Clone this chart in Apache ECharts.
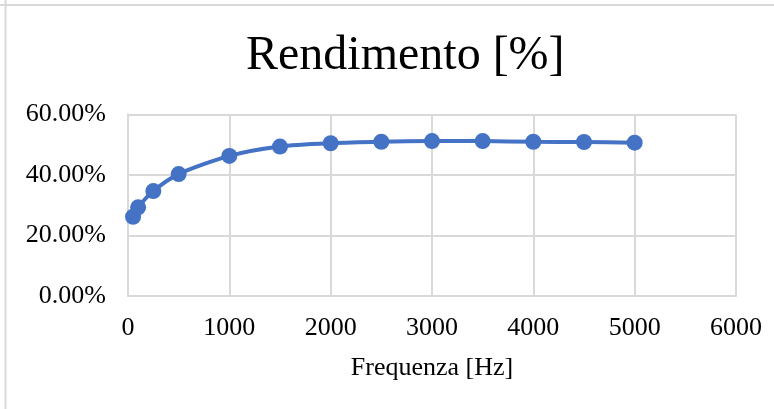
<!DOCTYPE html>
<html>
<head>
<meta charset="utf-8">
<script src="https://cdn.jsdelivr.net/npm/echarts@6/dist/echarts.min.js"></script>
<style>
html,body{margin:0;padding:0;background:#fff;}
#chart{width:774px;height:409px;}
</style>
</head>
<body>
<div id="chart"></div>
<script>
const titleText = 'Rendimento [%]';
const xAxisName = 'Frequenza [Hz]';
const frequencies = [50, 100, 250, 500, 1000, 1500, 2000, 2500, 3000, 3500, 4000, 4500, 5000];
const efficiency = [26.2, 29.3, 34.7, 40.3, 46.3, 49.4, 50.5, 51.0, 51.2, 51.2, 51.0, 50.9, 50.7];
const xTicks = [0, 1000, 2000, 3000, 4000, 5000, 6000];
const yTicks = [0, 20, 40, 60];

const FONT = "'Times New Roman', 'Liberation Serif', serif";
const chart = echarts.init(document.getElementById('chart'), null, {renderer: 'canvas'});
chart.setOption({
  backgroundColor: '#ffffff',
  animation: false,
  title: {
    text: titleText,
    left: 241,
    top: 27,
    textStyle: {fontFamily: FONT, fontSize: 48, fontWeight: 'normal', color: '#000'}
  },
  graphic: [
    {type: 'line', shape: {x1: 0, y1: 5, x2: 774, y2: 5}, style: {stroke: '#d9d9d9', lineWidth: 2}, silent: true},
    {type: 'line', shape: {x1: 5.5, y1: 0, x2: 5.5, y2: 409}, style: {stroke: '#d9d9d9', lineWidth: 2}, silent: true}
  ],
  grid: {left: 128, right: 38, top: 114.5, bottom: 113, containLabel: false},
  xAxis: {
    type: 'value',
    min: xTicks[0],
    max: xTicks[xTicks.length - 1],
    interval: xTicks[1] - xTicks[0],
    name: xAxisName,
    nameLocation: 'middle',
    nameGap: 59,
    nameTextStyle: {fontFamily: FONT, fontSize: 26, color: '#000'},
    axisLine: {show: true, lineStyle: {color: '#d9d9d9', width: 2}},
    axisTick: {show: false},
    axisLabel: {fontFamily: FONT, fontSize: 26, color: '#000', margin: 19, formatter: v => String(v)},
    splitLine: {show: true, lineStyle: {color: '#d9d9d9', width: 2}}
  },
  yAxis: {
    type: 'value',
    min: yTicks[0],
    max: yTicks[yTicks.length - 1],
    interval: yTicks[1] - yTicks[0],
    axisLine: {show: true, lineStyle: {color: '#d9d9d9', width: 2}},
    axisTick: {show: false},
    axisLabel: {
      fontFamily: FONT, fontSize: 26, color: '#000', margin: 22,
      formatter: v => v.toFixed(2) + '%'
    },
    splitLine: {show: true, lineStyle: {color: '#d9d9d9', width: 2}}
  },
  series: [{
    type: 'line',
    data: frequencies.map((f, i) => [f, efficiency[i]]),
    smooth: 0.25,
    symbol: 'circle',
    symbolSize: 16,
    lineStyle: {color: '#4472C4', width: 4},
    itemStyle: {color: '#4472C4'}
  }]
});
</script>
</body>
</html>
